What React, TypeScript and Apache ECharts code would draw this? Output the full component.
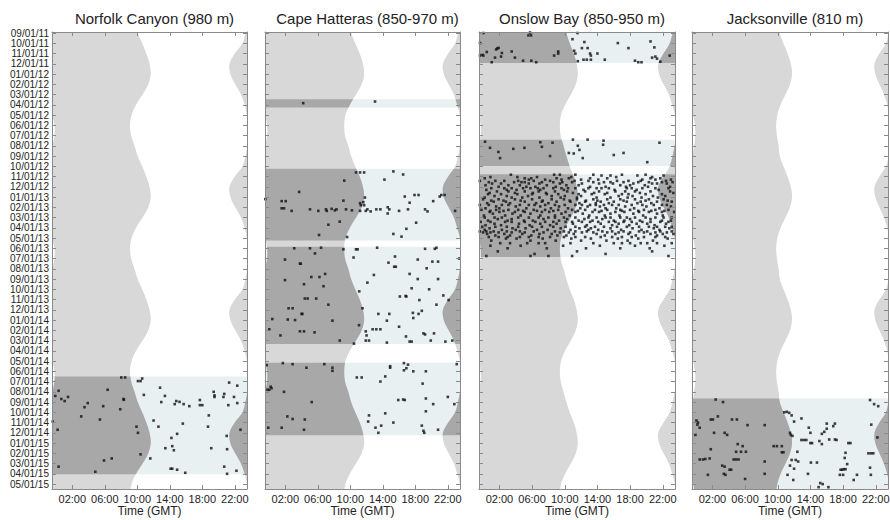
import React, { useEffect, useRef } from 'react';
import * as echarts from 'echarts';

const panelTitles = ['Norfolk Canyon (980 m)', 'Cape Hatteras (850-970 m)', 'Onslow Bay (850-950 m)', 'Jacksonville (810 m)'];

const dateLabels = [
  '09/01/11', '10/01/11', '11/01/11', '12/01/11', '01/01/12', '02/01/12', '03/01/12', '04/01/12', '05/01/12',
  '06/01/12', '07/01/12', '08/01/12', '09/01/12', '10/01/12', '11/01/12', '12/01/12', '01/01/13', '02/01/13',
  '03/01/13', '04/01/13', '05/01/13', '06/01/13', '07/01/13', '08/01/13', '09/01/13', '10/01/13', '11/01/13',
  '12/01/13', '01/01/14', '02/01/14', '03/01/14', '04/01/14', '05/01/14', '06/01/14', '07/01/14', '08/01/14',
  '09/01/14', '10/01/14', '11/01/14', '12/01/14', '01/01/15', '02/01/15', '03/01/15', '04/01/15', '05/01/15',
];
const hourTicks = [2, 6, 10, 14, 18, 22];

// Sunrise / sunset (GMT hours) on the 1st of each month, Jan..Dec
const norfolkSunrise = [11.65, 11.35, 10.65, 9.85, 9.3, 9.1, 9.25, 9.65, 10.05, 10.6, 11.1, 11.5];
const norfolkSunset = [21.45, 22.05, 22.75, 23.2, 23.5, 23.8, 23.8, 23.55, 23.3, 22.95, 22.0, 21.35];
const hatterasSunrise = [11.7, 11.4, 10.7, 9.95, 9.4, 9.25, 9.35, 9.75, 10.1, 10.6, 11.15, 11.55];
const hatterasSunset = [21.5, 22.1, 22.75, 23.15, 23.5, 23.75, 23.75, 23.5, 23.25, 22.9, 22.05, 21.4];
const onslowSunrise = [11.6, 11.35, 10.75, 10.05, 9.55, 9.4, 9.5, 9.85, 10.2, 10.6, 11.1, 11.45];
const onslowSunset = [21.55, 22.1, 22.75, 23.15, 23.5, 23.7, 23.7, 23.45, 23.2, 22.85, 22.1, 21.45];
const jaxSunrise = [11.75, 11.5, 10.95, 10.35, 9.95, 9.8, 9.9, 10.1, 10.25, 10.7, 11.2, 11.6];
const jaxSunset = [21.95, 22.45, 23.0, 23.4, 23.65, 23.85, 23.9, 23.75, 23.55, 23.25, 22.45, 21.85];

// Recording periods, in months after 09/01/11
const norfolkPeriods = [[33.5, 43.05]];
const hatterasPeriods = [[6.45, 7.27], [13.25, 20.25], [20.84, 30.34], [32.17, 39.23]];
const onslowPeriods = [[-0.5, 2.93], [10.42, 12.96], [13.77, 21.85]];
const jaxPeriods = [[35.65, 45]];

// Detections: [hour GMT, months after 09/01/11]
const norfolkDots = [
  [8.03, 33.6], [8.5, 33.6], [10.08, 33.95], [10.4, 33.95], [10.6, 33.7], [21.3, 34.1], [22.3, 34.4], [6.35, 34.8], [12.8, 34.6],
  [0.31, 34.9], [-0.1, 35.4], [0.65, 35.7], [1.06, 35.9], [1.47, 35.5], [8.3, 35.7], [8.35, 35.78], [3.9, 36.1], [3.5, 36.5],
  [5.8, 36.4], [7.9, 36.7], [3.1, 37.4], [5.4, 37.7], [-0.42, 37.9], [0.19, 38.7], [0.31, 42.3], [4.83, 42.8], [5.9, 41.7],
  [6.85, 41.5], [9.9, 38.4], [10.08, 39.0], [10.4, 41.1], [11.6, 41.5], [10.8, 35.3], [12.0, 37.8], [12.6, 38.4], [13.4, 35.4],
  [12.95, 36.0], [13.45, 40.5], [14.2, 39.5], [14.3, 40.3], [14.5, 40.7], [14.9, 39.1], [15.6, 38.1], [14.6, 36.2], [14.8, 35.9],
  [15.2, 35.98], [15.7, 36.2], [16.4, 36.4], [17.7, 35.8], [17.7, 36.3], [18.0, 36.3], [18.8, 37.3], [18.7, 38.4], [19.4, 35.0],
  [19.5, 35.5], [19.5, 35.35], [20.6, 35.5], [20.7, 35.2], [21.2, 36.3], [21.9, 35.5], [22.3, 36.1], [21.0, 39.3], [21.05, 40.6],
  [19.1, 40.5], [22.7, 38.7], [20.7, 42.3], [21.05, 43.0], [22.2, 42.7], [14.1, 42.5], [14.3, 42.5], [14.9, 42.6], [15.9, 42.9],
];

const hatterasDots = [
  [4.2, 6.84], [13.04, 6.68],
  [10.7, 13.6], [11.2, 13.6], [11.7, 13.6], [15.3, 13.5], [16.5, 13.8], [14.2, 14.3], [9.26, 14.4], [3.7, 15.5], [-0.46, 16.2],
  [1.55, 16.4], [2.05, 16.4], [1.55, 17.1], [1.84, 17.1], [2.78, 17.35], [5.04, 17.2], [6.06, 17.35], [7.0, 17.2], [7.1, 17.35],
  [7.7, 17.15], [8.1, 17.3], [8.3, 17.2], [9.15, 16.35], [9.47, 17.2], [10.2, 17.3], [11.2, 16.6], [11.3, 16.8], [11.6, 16.5],
  [11.7, 16.8], [11.8, 16.05], [11.2, 17.35], [11.9, 17.35], [12.1, 17.2], [12.5, 17.4], [13.2, 17.2], [13.7, 17.2], [14.6, 17.0],
  [14.8, 17.2], [14.6, 17.6], [16.0, 17.35], [16.7, 15.95], [17.3, 16.55], [17.9, 15.8], [18.4, 15.8], [17.1, 17.2], [19.2, 17.2],
  [19.5, 17.4], [20.2, 16.4], [21.0, 15.95], [21.2, 15.8], [21.6, 15.8], [22.9, 17.35], [18.1, 18.5], [16.9, 19.1], [15.3, 19.6],
  [16.3, 19.86], [8.7, 18.4], [7.3, 18.7], [6.15, 19.7], [9.6, 19.9],
  [3.1, 21.0], [5.04, 21.0], [5.65, 21.5], [6.4, 20.94], [9.15, 21.1], [10.7, 21.1], [10.9, 21.1], [13.3, 20.94], [10.4, 21.9],
  [1.96, 22.1], [3.8, 22.5], [3.9, 22.5], [15.5, 21.8], [14.7, 22.4], [15.4, 22.8], [15.6, 22.8], [18.3, 22.1], [19.2, 21.05],
  [20.4, 21.05], [20.6, 20.95], [20.1, 22.3], [20.8, 22.3], [19.4, 22.95], [23.4, 22.0], [12.9, 23.6], [17.3, 23.5], [5.2, 23.8],
  [6.2, 23.8], [6.9, 23.5], [1.96, 24.1], [4.3, 24.5], [6.7, 24.7], [12.1, 24.35], [18.3, 24.0], [20.8, 24.0], [11.1, 25.2],
  [17.55, 24.9], [19.7, 25.0], [21.45, 25.6], [16.1, 25.7], [16.8, 25.65], [16.9, 25.7], [4.4, 25.9], [4.75, 25.9], [5.8, 25.9],
  [7.3, 26.5], [2.4, 26.85], [2.9, 26.85], [4.0, 27.4], [4.1, 27.4], [0.4, 27.9], [2.3, 27.95], [3.2, 28.0], [7.8, 28.06],
  [3.8, 29.1], [4.3, 29.1], [5.6, 29.2], [0.03, 28.9], [1.4, 29.5], [8.7, 30.0], [11.07, 28.5], [11.5, 26.85], [10.45, 30.3],
  [11.9, 29.1], [12.0, 29.5], [12.3, 30.0], [11.9, 30.0], [12.75, 28.9], [13.2, 28.9], [13.7, 28.9], [13.45, 27.4], [14.8, 27.4],
  [14.5, 28.06], [14.5, 30.2], [16.0, 28.65], [16.85, 29.6], [17.3, 30.1], [17.55, 30.1], [17.7, 27.3], [17.75, 27.8], [18.4, 27.4],
  [18.8, 27.1], [18.5, 26.05], [20.6, 26.5], [22.1, 26.05], [19.0, 29.3], [19.2, 29.4], [20.3, 29.3], [19.9, 30.0], [21.7, 30.1],
  [22.55, 30.0],
  [-0.3, 32.4], [1.7, 32.2], [2.9, 32.3], [4.6, 32.65], [6.8, 32.3], [7.8, 32.65], [7.8, 32.95], [10.8, 33.6], [11.4, 33.6],
  [13.7, 34.0], [14.3, 33.5], [14.9, 32.5], [14.9, 32.65], [16.6, 32.2], [17.1, 32.35], [16.9, 32.7], [16.6, 32.9], [17.75, 33.0],
  [19.3, 33.0], [18.9, 34.2], [23.1, 32.3], [0.2, 34.5], [0.3, 34.65], [0.03, 34.8], [-0.2, 34.8], [1.84, 35.0], [5.25, 36.0],
  [2.25, 37.4], [2.9, 37.65], [4.4, 37.7], [-0.1, 38.5], [1.55, 38.5], [4.3, 38.7], [15.9, 35.8], [16.5, 35.75], [16.7, 35.8],
  [19.3, 35.65], [20.2, 36.2], [22.0, 35.5], [22.8, 36.2], [19.3, 36.9], [12.3, 37.3], [14.3, 37.1], [12.2, 37.9], [15.3, 38.0],
  [13.8, 38.3], [13.1, 38.5], [13.45, 39.0], [18.8, 38.3], [19.0, 38.8], [19.1, 39.0], [20.8, 38.7],
];

const onslowDots = [
  [0.03, 0.0], [5.75, -0.05], [5.55, 0.23], [5.9, 0.23], [-0.38, 0.98], [1.75, 1.5], [1.9, 1.45], [1.6, 1.6], [0.45, 1.85],
  [-0.1, 2.1], [-0.38, 2.2], [0.03, 2.2], [2.3, 1.95], [2.2, 2.3], [3.5, 1.8], [1.46, 2.4], [1.06, 2.85], [3.9, 2.4], [4.9, 2.7],
  [5.9, 2.7], [6.5, 2.85], [8.7, 2.2], [9.2, 2.0], [9.2, 1.8], [11.56, 0.0], [10.95, 0.6], [12.4, 0.88], [11.15, 1.73],
  [11.3, 2.0], [12.1, 1.47], [12.8, 1.47], [13.1, 2.0], [13.2, 2.2], [11.6, 2.75], [12.3, 2.6], [12.7, 2.6], [13.2, 2.6],
  [14.0, 2.0], [14.9, 2.6], [16.5, 0.98], [17.8, 1.47], [20.5, 0.82], [20.97, 1.4], [21.1, 2.3], [21.3, 2.5], [20.7, 2.4],
  [21.7, 2.8], [18.6, 2.7], [19.0, 2.85], [19.4, 2.85], [22.85, 2.2],
  [0.24, 10.6], [0.85, 11.2], [1.87, 11.6], [2.08, 12.2], [3.7, 11.3], [5.06, 11.2], [7.0, 10.65], [7.2, 11.1], [8.5, 10.7],
  [8.2, 12.0], [11.0, 10.4], [11.6, 11.0], [12.8, 10.4], [14.75, 10.5], [14.7, 10.9], [10.5, 11.7], [11.1, 11.75], [12.2, 12.2],
  [11.8, 11.4], [17.2, 11.7], [16.0, 11.9], [21.6, 10.7], [20.1, 12.6],
];

// Days with many detections at Onslow Bay: [months after 09/01/11, hours GMT]
const onslowRows: [number, number[]][] = [
  [13.82, [3.4, 8.7, 9.4, 11.3, 13.5, 17.0, 19.9]],
  [13.9, [14.5, 15.6, 18.9, 22.1]],
  [14.05, [0.9, 4.2, 6.6, 10.8, 16.3, 20.7]],
  [14.17, [0.2, 5.1, 5.9, 9.0, 10.5, 13.1, 15.2, 20.5, 21.7]],
  [14.3, [5.6, 7.6, 9.6, 12.0, 14.1, 19.5, 21.1, 23.0]],
  [14.42, [-0.4, 1.5, 2.6, 4.3, 6.2, 8.2, 11.2, 12.9, 16.4, 17.8, 19.3, 22.4]],
  [14.55, [0.7, 3.8, 4.7, 5.1, 7.2, 8.6, 9.7, 10.9, 13.5, 14.8, 15.6, 17.2, 19.0, 20.3, 21.9, 23.2]],
  [14.68, [1.1, 2.2, 5.6, 6.9, 9.4, 12.1, 14.2, 15.9, 18.4, 20.7, 21.3, 22.5]],
  [14.85, [0.3, 3.1, 4.5, 7.8, 10.2, 11.7, 16.8, 18.0, 19.8]],
  [15.0, [1.9, 5.3, 6.4, 8.9, 13.1, 15.0, 17.5, 20.2, 22.9]],
  [15.14, [1.0, 2.6, 3.5, 4.9, 5.8, 6.7, 7.4, 8.6, 9.6, 10.4, 11.3, 12.9, 13.9, 14.5, 15.4, 17.6, 18.2, 19.5, 21.1, 22.7]],
  [15.3, [0.4, 2.9, 4.1, 7.0, 9.9, 12.3, 16.1, 18.8, 21.5]],
  [15.45, [-0.6, 1.7, 3.1, 5.1, 6.8, 8.8, 10.3, 12.5, 14.2, 16.2, 17.4, 18.6, 20.5, 22.9]],
  [15.6, [0.8, 3.9, 6.1, 7.7, 11.0, 13.6, 15.2, 19.2, 23.3]],
  [15.72, [0.6, 2.2, 4.2, 6.0, 7.8, 9.2, 11.7, 13.3, 14.9, 17.0, 17.8, 19.9, 21.9]],
  [15.9, [1.4, 2.9, 5.5, 8.4, 10.0, 12.0, 16.6, 18.3, 20.8, 22.3]],
  [16.05, [0.2, 3.5, 4.8, 6.9, 9.5, 11.5, 13.9, 15.6, 17.7, 19.4, 21.4]],
  [16.22, [0.0, 1.9, 3.9, 6.0, 8.4, 9.9, 11.5, 13.5, 15.2, 16.8, 18.6, 20.3, 22.1]],
  [16.35, [1.0, 2.5, 4.6, 7.3, 10.6, 12.6, 14.0, 17.2, 19.9, 22.6]],
  [16.45, [1.3, 2.8, 5.1, 7.2, 9.0, 10.7, 12.5, 14.4, 16.0, 17.6, 19.3, 21.3, 23.1]],
  [16.6, [0.5, 3.3, 6.5, 8.0, 11.8, 13.8, 15.4, 18.9, 20.6]],
  [16.77, [-0.4, 0.7, 2.3, 3.1, 4.5, 5.6, 6.3, 7.6, 8.8, 10.0, 11.3, 12.1, 13.1, 13.8, 14.8, 15.8, 16.6, 18.2, 19.5, 20.9, 21.9, 22.5]],
  [16.92, [1.6, 4.0, 7.0, 9.3, 12.8, 14.3, 17.4, 20.0, 23.0]],
  [17.1, [0.3, 2.0, 5.3, 8.3, 10.4, 11.9, 15.0, 16.3, 18.5, 21.6]],
  [17.25, [-0.2, 1.6, 3.1, 4.3, 6.2, 7.6, 9.2, 10.9, 12.5, 13.7, 15.2, 16.8, 18.0, 19.7, 21.1, 22.7]],
  [17.35, [0.9, 2.5, 4.9, 6.6, 8.6, 11.6, 14.5, 17.0, 19.0, 20.6, 22.2]],
  [17.45, [0.8, 2.0, 3.9, 5.1, 7.2, 8.1, 10.1, 11.3, 13.4, 14.2, 16.2, 17.3, 19.1, 20.3, 21.9, 23.4]],
  [17.62, [1.2, 3.6, 5.8, 9.6, 12.2, 15.6, 18.4, 21.3]],
  [17.8, [0.1, 2.7, 4.6, 7.0, 8.8, 10.6, 13.0, 14.9, 16.7, 19.6, 22.0]],
  [18.0, [0.2, 1.4, 2.3, 4.3, 5.6, 6.8, 8.0, 8.8, 9.9, 11.3, 12.9, 13.9, 15.0, 15.6, 16.8, 17.6, 18.6, 19.9, 21.1, 22.1, 23.1]],
  [18.15, [1.8, 3.5, 7.4, 10.3, 12.4, 14.6, 18.0, 20.5]],
  [18.3, [0.6, 3.0, 5.0, 6.1, 9.3, 11.7, 13.4, 16.0, 17.3, 19.2, 21.9, 23.0]],
  [18.42, [-0.3, 0.9, 2.7, 3.5, 5.1, 6.4, 7.6, 8.6, 10.1, 10.9, 12.1, 13.1, 14.1, 15.4, 16.2, 17.2, 18.2, 19.5, 20.5, 21.7, 22.7]],
  [18.6, [1.4, 4.4, 7.0, 9.0, 11.0, 14.4, 16.6, 18.8, 20.1, 22.4]],
  [18.75, [0.3, 2.2, 5.7, 8.2, 12.7, 15.8, 17.9, 21.0]],
  [18.9, [-0.1, 1.5, 2.9, 4.3, 6.0, 7.2, 8.6, 10.1, 11.3, 12.5, 13.7, 14.8, 16.4, 17.6, 19.1, 20.3, 21.3, 22.3, 23.1]],
  [19.05, [0.8, 3.6, 5.2, 9.5, 11.8, 13.2, 15.6, 18.3, 20.9, 22.8]],
  [19.2, [0.2, 2.3, 4.0, 6.6, 7.9, 10.7, 12.9, 14.1, 16.9, 19.4, 21.6]],
  [19.35, [-0.4, 0.4, 1.3, 2.9, 4.5, 6.2, 8.8, 9.9, 11.3, 12.7, 14.6, 15.8, 17.2, 19.1, 20.1, 21.7, 23.1]],
  [19.45, [0.0, 0.9, 1.9, 3.5, 5.1, 7.4, 9.4, 10.5, 12.1, 13.5, 15.2, 16.6, 18.0, 19.7, 21.1, 22.5]],
  [19.6, [0.5, 2.6, 4.8, 6.9, 8.4, 11.1, 13.9, 16.2, 17.8, 20.5, 22.0, 23.3]],
  [19.75, [1.5, 3.3, 5.9, 9.1, 10.2, 14.9, 18.7, 21.3]],
  [19.9, [0.7, 1.9, 3.0, 4.5, 5.6, 6.8, 8.2, 9.9, 11.3, 12.5, 14.4, 15.8, 17.0, 18.2, 19.7, 21.1, 22.3]],
  [20.05, [2.8, 4.1, 7.3, 10.8, 13.2, 16.5, 19.0, 22.6]],
  [20.25, [1.0, 5.8, 8.9, 12.0, 15.1, 17.7, 20.8]],
  [20.5, [2.1, 3.3, 5.4, 6.8, 7.6, 10.7, 13.5, 16.0, 17.0, 18.0, 19.3, 20.1, 21.3, 23.1]],
  [20.75, [0.9, 4.6, 9.8, 14.3, 18.6, 22.2]],
  [21.0, [3.0, 7.8, 12.6, 16.8, 20.4]],
  [21.3, [1.8, 11.5, 20.7]],
  [21.55, [6.3, 15.0]],
  [21.75, [0.4, 5.8, 8.0, 10.9, 22.7]],
];

const jaxDots = [
  [2.4, 35.75], [3.3, 36.0], [0.04, 37.8], [0.23, 38.0], [0.16, 38.2], [0.44, 38.5], [1.8, 37.7], [2.06, 37.7], [2.67, 37.4],
  [4.4, 37.7], [5.0, 37.7], [-0.08, 39.2], [2.2, 39.0], [3.5, 39.0], [3.8, 39.2], [6.3, 38.25], [8.4, 38.25], [5.1, 40.1],
  [5.7, 40.3], [1.8, 40.6], [4.9, 40.85], [5.5, 40.85], [6.1, 40.85], [0.44, 41.6], [0.84, 41.6], [1.13, 41.55], [1.66, 41.5],
  [4.6, 41.6], [4.9, 41.6], [5.2, 41.6], [3.2, 42.2], [3.5, 42.3], [4.1, 42.6], [4.3, 42.6], [1.45, 43.1], [3.4, 43.0],
  [3.6, 43.1], [6.0, 43.5], [8.4, 41.8], [8.4, 43.0], [9.5, 40.3], [9.9, 40.3], [10.5, 40.3], [10.5, 40.9], [10.7, 40.9],
  [10.8, 37.0], [11.1, 36.95], [11.4, 37.05], [11.7, 37.3], [12.0, 37.9], [12.9, 37.6], [11.5, 39.0], [11.6, 39.2], [11.8, 39.3],
  [12.9, 39.7], [13.2, 39.7], [13.5, 39.7], [12.4, 40.85], [11.7, 41.65], [12.2, 41.65], [12.5, 41.8], [11.5, 42.2], [12.0, 42.5],
  [11.9, 43.6], [11.2, 43.1], [13.8, 38.5], [14.0, 39.0], [14.0, 40.0], [14.2, 40.0], [15.1, 39.8], [15.4, 39.1], [15.7, 38.9],
  [16.0, 38.6], [16.0, 38.1], [17.0, 38.1], [16.8, 38.35], [16.3, 39.65], [17.0, 39.65], [17.2, 39.7], [15.4, 40.1], [14.06, 41.9],
  [14.8, 41.9], [13.7, 43.0], [15.2, 43.9], [15.5, 44.0], [15.0, 44.3], [16.2, 44.3], [18.65, 40.0], [18.9, 40.0], [18.3, 40.95],
  [18.2, 41.45], [17.7, 42.6], [17.9, 42.6], [18.1, 42.55], [18.3, 42.55], [17.6, 43.1], [18.0, 43.1], [18.5, 42.05], [19.7, 43.1],
  [21.3, 42.4], [21.3, 35.8], [21.8, 36.2], [22.3, 36.4], [21.45, 38.2], [22.2, 39.45], [21.1, 41.0], [21.4, 41.0], [21.7, 41.0],
  [19.3, 43.6], [21.4, 43.1],
];

const X_MIN = -0.5;
const X_MAX = 23.5;
const Y_MIN = -0.1;
const Y_MAX = 44.48;
const COL_NIGHT = '#d8d8d8';
const COL_NIGHT_REC = '#a8a8a8';
const COL_DAY_REC = '#e8f0f2';
const AXIS_COL = '#8a8a8a';
const FONT = 'Liberation Sans, Arial, Helvetica, sans-serif';

const sites = [
  { rise: norfolkSunrise, set: norfolkSunset, periods: norfolkPeriods, dots: norfolkDots },
  { rise: hatterasSunrise, set: hatterasSunset, periods: hatterasPeriods, dots: hatterasDots },
  {
    rise: onslowSunrise, set: onslowSunset, periods: onslowPeriods,
    dots: onslowDots.concat(onslowRows.flatMap(([m, hs]) => hs.map((h) => [h, m]))),
  },
  { rise: jaxSunrise, set: jaxSunset, periods: jaxPeriods, dots: jaxDots },
];

const grids = [
  { left: 52, width: 195 },
  { left: 265, width: 195 },
  { left: 479, width: 196 },
  { left: 692, width: 196 },
];
const GRID_TOP = 32;
const GRID_HEIGHT = 457;

function curve(table: number[], shift = 0) {
  const pts: number[][] = [];
  for (let m = -2; m <= 46; m++) pts.push([table[(((8 + m) % 12) + 12) % 12] + shift, m]);
  return pts;
}

function makeRender(site: any) {
  return (params: any, api: any) => {
    if (params.dataIndex !== 0) return null;
    const cs = params.coordSys;
    const gx = cs.x, gy = cs.y, gw = cs.width, gh = cs.height;
    const P = (pts: number[][]) => pts.map((p) => api.coord(p));
    const leftPts = P([[X_MIN - 4, -2], ...curve(site.rise), [X_MIN - 4, 46]]);
    const rightPts = P([[X_MAX + 4, -2], ...curve(site.set), [X_MAX + 4, 46]]);
    const wrapPts = P([[X_MIN - 4, -2], ...curve(site.set, -24), [X_MIN - 4, 46]]);
    const gridClip = () => ({ type: 'rect', shape: { x: gx, y: gy, width: gw, height: gh } });
    const poly = (points: any, fill: string, clip: any) => ({
      type: 'polygon', shape: { points, smooth: 0.35 }, style: { fill, stroke: null }, clipPath: clip, silent: true,
    });
    const rects = site.periods.map(([a, b]: number[]) => {
      const ya = Math.max(gy, api.coord([0, a])[1]);
      const yb = Math.min(gy + gh, api.coord([0, b])[1]);
      return { x: gx, y: ya, width: gw, height: Math.max(0, yb - ya) };
    });
    const children: any[] = [];
    rects.forEach((r: any) => children.push({ type: 'rect', shape: { ...r }, style: { fill: COL_DAY_REC }, silent: true }));
    children.push(poly(leftPts, COL_NIGHT, gridClip()));
    children.push(poly(rightPts, COL_NIGHT, gridClip()));
    children.push(poly(wrapPts, '#ffffff', gridClip()));
    rects.forEach((r: any) => {
      children.push(poly(leftPts, COL_NIGHT_REC, { type: 'rect', shape: { ...r } }));
      children.push(poly(rightPts, COL_NIGHT_REC, { type: 'rect', shape: { ...r } }));
      children.push(poly(wrapPts, COL_DAY_REC, { type: 'rect', shape: { ...r } }));
    });
    return { type: 'group', children };
  };
}

export default function App() {
  const ref = useRef<HTMLDivElement>(null);
  useEffect(() => {
    document.body.style.margin = '0';
    if (!ref.current) return;
    const chart = echarts.init(ref.current, null, { renderer: 'svg' });
    const monthTicks = dateLabels.map((_, i) => i);
    const evenTicks = monthTicks.filter((i) => i % 2 === 0);
    const oddTicks = monthTicks.filter((i) => i % 2 === 1);
    const xAxis: any[] = [];
    const yAxis: any[] = [];
    const series: any[] = [];
    const title: any[] = [];
    const yLabelStyle = {
      margin: 3, color: '#222', fontSize: 10, fontFamily: FONT, showMinLabel: true, showMaxLabel: true,
      hideOverlap: false, formatter: (v: number) => dateLabels[Math.round(v)],
    };
    grids.forEach((g, i) => {
      title.push({
        text: panelTitles[i], left: g.left + g.width / 2, top: 6, textAlign: 'center',
        textStyle: { fontSize: 15, fontWeight: 'normal', color: '#222', fontFamily: FONT },
      });
      const line = { show: true, onZero: false, lineStyle: { color: AXIS_COL, width: 1 } };
      xAxis.push({
        gridIndex: i, type: 'value', min: X_MIN, max: X_MAX, position: 'bottom', z: 10,
        axisLine: line,
        axisTick: { show: true, inside: true, length: 4, customValues: hourTicks, lineStyle: { color: AXIS_COL } },
        axisLabel: {
          show: true, customValues: hourTicks, margin: 4, color: '#222', fontSize: 11, fontFamily: FONT,
          formatter: (v: number) => (v < 10 ? '0' : '') + v + ':00',
        },
        splitLine: { show: false },
        name: 'Time (GMT)', nameLocation: 'middle', nameGap: 16, nameMoveOverlap: false,
        nameTextStyle: { color: '#222', fontSize: 12, fontFamily: FONT, verticalAlign: 'top' },
      });
      xAxis.push({
        gridIndex: i, type: 'value', min: X_MIN, max: X_MAX, position: 'top', z: 10,
        axisLine: line,
        axisTick: { show: true, inside: true, length: 4, customValues: hourTicks, lineStyle: { color: AXIS_COL } },
        axisLabel: { show: false }, splitLine: { show: false },
      });
      yAxis.push({
        gridIndex: i, type: 'value', inverse: true, min: Y_MIN, max: Y_MAX, position: 'left', z: 10,
        axisLine: line,
        axisTick: { show: true, inside: true, length: 4, customValues: monthTicks, lineStyle: { color: AXIS_COL } },
        axisLabel: { show: i === 0, customValues: evenTicks, ...yLabelStyle },
        splitLine: { show: false },
      });
      yAxis.push({
        gridIndex: i, type: 'value', inverse: true, min: Y_MIN, max: Y_MAX, position: 'right', z: 10,
        axisLine: line,
        axisTick: { show: true, inside: true, length: 4, customValues: monthTicks, lineStyle: { color: AXIS_COL } },
        axisLabel: { show: false }, splitLine: { show: false },
      });
      series.push({
        type: 'custom', xAxisIndex: 2 * i, yAxisIndex: 2 * i, data: [[0, 0]], encode: { x: 0, y: 1 },
        renderItem: makeRender(sites[i]), silent: true, z: 1,
      });
      series.push({
        type: 'scatter', xAxisIndex: 2 * i, yAxisIndex: 2 * i, data: sites[i].dots, symbol: 'rect', symbolSize: 2.6,
        itemStyle: { color: '#111' }, silent: true, z: 3, clip: true,
      });
    });
    // Second label layer for the odd months of the first panel's date axis
    yAxis.push({
      gridIndex: 0, type: 'value', inverse: true, min: Y_MIN, max: Y_MAX, position: 'left', z: 10,
      axisLine: { show: false, onZero: false }, axisTick: { show: false },
      axisLabel: { show: true, customValues: oddTicks, ...yLabelStyle },
      splitLine: { show: false },
    });
    chart.setOption({
      animation: false,
      backgroundColor: '#ffffff',
      title,
      grid: grids.map((g) => ({
        left: g.left, width: g.width, top: GRID_TOP, height: GRID_HEIGHT, containLabel: false, outerBoundsMode: 'none',
      })),
      xAxis,
      yAxis,
      series,
    });
    return () => chart.dispose();
  }, []);
  return <div ref={ref} style={{ width: 890, height: 520 }} />;
}
